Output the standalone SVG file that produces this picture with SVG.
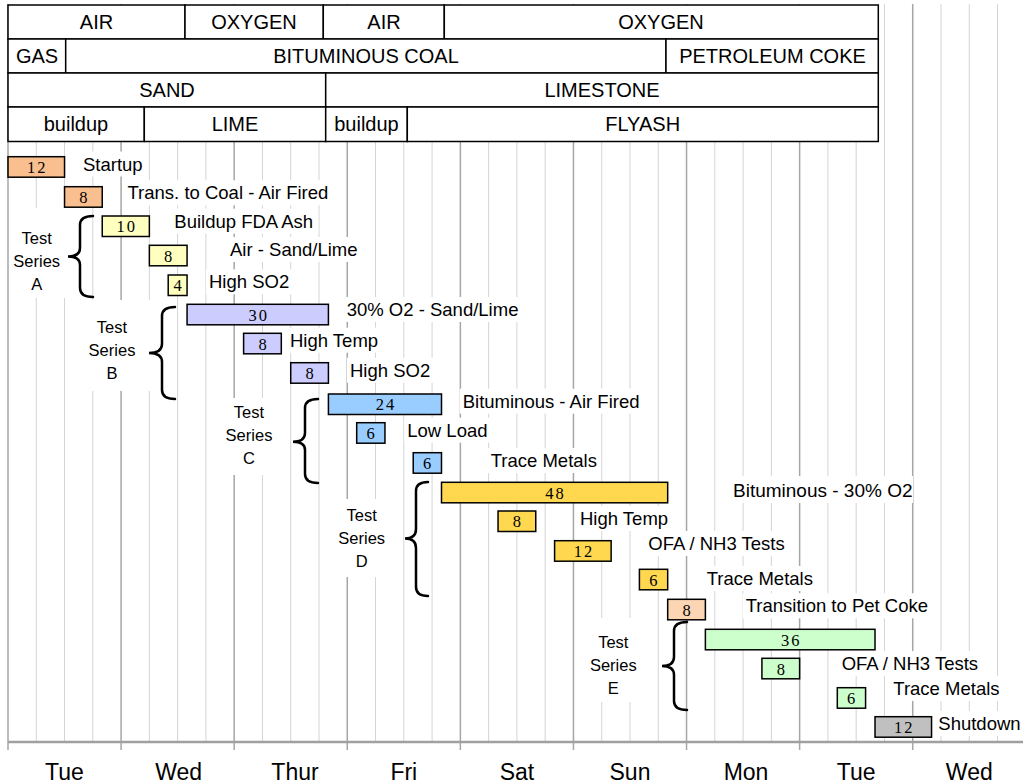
<svg xmlns="http://www.w3.org/2000/svg" width="1023" height="784" viewBox="0 0 1023 784">
<style>
.minor{stroke:#d4d4d4;stroke-width:1}
.major{stroke:#a6a6a6;stroke-width:1.5}
.cell{fill:#fff;stroke:#000;stroke-width:1.5}
.tt{font-family:"Liberation Sans",Arial,sans-serif;font-size:20px;fill:#000;text-anchor:middle}
.bar{stroke:#000;stroke-width:1.5}
.num{font-family:"Liberation Serif","Times New Roman",serif;font-size:16.5px;fill:#000;text-anchor:middle;letter-spacing:2px}
.lbl{font-family:"Liberation Sans",Arial,sans-serif;font-size:18.5px;fill:#000}
.bg{fill:#fff;stroke:none}
.ser{font-family:"Liberation Sans",Arial,sans-serif;font-size:16.5px;fill:#000;text-anchor:middle}
.brace{fill:none;stroke:#000;stroke-width:2.5;stroke-linecap:round}
.day{font-family:"Liberation Sans",Arial,sans-serif;font-size:23px;fill:#000;text-anchor:middle}
.c1{fill:#f9bf8f}.c2{fill:#ffffc0}.c3{fill:#ccccff}.c4{fill:#99ccff}.c5{fill:#ffd850}.c6{fill:#fcd5b4}.c7{fill:#ccffcc}.c8{fill:#c0c0c0}
</style>
<rect x="0" y="0" width="1023" height="784" fill="#fff"/>
<g id="grid">
<line class="minor" x1="36.27" y1="4" x2="36.27" y2="742"/>
<line class="minor" x1="64.54" y1="4" x2="64.54" y2="742"/>
<line class="minor" x1="92.81" y1="4" x2="92.81" y2="742"/>
<line class="major" x1="121.09" y1="4" x2="121.09" y2="750"/>
<line class="minor" x1="149.36" y1="4" x2="149.36" y2="742"/>
<line class="minor" x1="177.63" y1="4" x2="177.63" y2="742"/>
<line class="minor" x1="205.9" y1="4" x2="205.9" y2="742"/>
<line class="major" x1="234.18" y1="4" x2="234.18" y2="750"/>
<line class="minor" x1="262.45" y1="4" x2="262.45" y2="742"/>
<line class="minor" x1="290.72" y1="4" x2="290.72" y2="742"/>
<line class="minor" x1="318.99" y1="4" x2="318.99" y2="742"/>
<line class="major" x1="347.27" y1="4" x2="347.27" y2="750"/>
<line class="minor" x1="375.54" y1="4" x2="375.54" y2="742"/>
<line class="minor" x1="403.81" y1="4" x2="403.81" y2="742"/>
<line class="minor" x1="432.08" y1="4" x2="432.08" y2="742"/>
<line class="major" x1="460.36" y1="4" x2="460.36" y2="750"/>
<line class="minor" x1="488.63" y1="4" x2="488.63" y2="742"/>
<line class="minor" x1="516.9" y1="4" x2="516.9" y2="742"/>
<line class="minor" x1="545.17" y1="4" x2="545.17" y2="742"/>
<line class="major" x1="573.45" y1="4" x2="573.45" y2="750"/>
<line class="minor" x1="601.72" y1="4" x2="601.72" y2="742"/>
<line class="minor" x1="629.99" y1="4" x2="629.99" y2="742"/>
<line class="minor" x1="658.26" y1="4" x2="658.26" y2="742"/>
<line class="major" x1="686.54" y1="4" x2="686.54" y2="750"/>
<line class="minor" x1="714.81" y1="4" x2="714.81" y2="742"/>
<line class="minor" x1="743.08" y1="4" x2="743.08" y2="742"/>
<line class="minor" x1="771.35" y1="4" x2="771.35" y2="742"/>
<line class="major" x1="799.63" y1="4" x2="799.63" y2="750"/>
<line class="minor" x1="827.9" y1="4" x2="827.9" y2="742"/>
<line class="minor" x1="856.17" y1="4" x2="856.17" y2="742"/>
<line class="minor" x1="884.44" y1="4" x2="884.44" y2="742"/>
<line class="major" x1="912.72" y1="4" x2="912.72" y2="750"/>
<line class="minor" x1="940.99" y1="4" x2="940.99" y2="742"/>
<line class="minor" x1="969.26" y1="4" x2="969.26" y2="742"/>
<line class="minor" x1="997.53" y1="4" x2="997.53" y2="742"/>
<line class="major" x1="8" y1="4" x2="8" y2="750"/>
<line x1="8" y1="742" x2="1023" y2="742" stroke="#a0a0a0" stroke-width="2.5"/>
</g>
<g id="axis-labels">
<text class="day" x="64.5" y="780">Tue</text>
<text class="day" x="178.6" y="780">Wed</text>
<text class="day" x="295" y="780">Thur</text>
<text class="day" x="403.8" y="780">Fri</text>
<text class="day" x="517" y="780">Sat</text>
<text class="day" x="630" y="780">Sun</text>
<text class="day" x="746" y="780">Mon</text>
<text class="day" x="856.2" y="780">Tue</text>
<text class="day" x="969.3" y="780">Wed</text>
</g>
<g id="table">
<rect class="cell" x="8" y="5" width="177" height="34"/>
<rect class="cell" x="185" y="5" width="138.3" height="34"/>
<rect class="cell" x="323.3" y="5" width="121" height="34"/>
<rect class="cell" x="444.3" y="5" width="434" height="34"/>
<rect class="cell" x="8" y="39" width="57.7" height="34"/>
<rect class="cell" x="65.7" y="39" width="600.3" height="34"/>
<rect class="cell" x="666" y="39" width="212.3" height="34"/>
<rect class="cell" x="8" y="73" width="317.7" height="34"/>
<rect class="cell" x="325.7" y="73" width="552.6" height="34"/>
<rect class="cell" x="8" y="107" width="136.3" height="34.5"/>
<rect class="cell" x="144.3" y="107" width="181.4" height="34.5"/>
<rect class="cell" x="325.7" y="107" width="81.6" height="34.5"/>
<rect class="cell" x="407.3" y="107" width="471" height="34.5"/>
<text class="tt" x="96.5" y="29">AIR</text>
<text class="tt" x="254" y="29">OXYGEN</text>
<text class="tt" x="384" y="29">AIR</text>
<text class="tt" x="661" y="29">OXYGEN</text>
<text class="tt" x="37" y="63">GAS</text>
<text class="tt" x="366" y="63">BITUMINOUS COAL</text>
<text class="tt" x="772.5" y="63">PETROLEUM COKE</text>
<text class="tt" x="167" y="97">SAND</text>
<text class="tt" x="602" y="97">LIMESTONE</text>
<text class="tt" x="76" y="131">buildup</text>
<text class="tt" x="235" y="131">LIME</text>
<text class="tt" x="366.5" y="131">buildup</text>
<text class="tt" x="642.7" y="131">FLYASH</text>
</g>
<g id="series-a">
<rect class="bg" x="10" y="208" width="56" height="90"/>
<text class="ser" x="36.7" y="244">Test</text>
<text class="ser" x="36.7" y="267">Series</text>
<text class="ser" x="36.7" y="290">A</text>
</g>
<g id="series-b">
<rect class="bg" x="70" y="300" width="82" height="91"/>
<text class="ser" x="112" y="333">Test</text>
<text class="ser" x="112" y="356">Series</text>
<text class="ser" x="112" y="379">B</text>
</g>
<g id="series-c">
<rect class="bg" x="212" y="398" width="78" height="77"/>
<text class="ser" x="249" y="418">Test</text>
<text class="ser" x="249" y="441">Series</text>
<text class="ser" x="249" y="464">C</text>
</g>
<g id="series-d">
<rect class="bg" x="322" y="499" width="78" height="78"/>
<text class="ser" x="361.7" y="520.7">Test</text>
<text class="ser" x="361.7" y="543.7">Series</text>
<text class="ser" x="361.7" y="566.7">D</text>
</g>
<g id="series-e">
<rect class="bg" x="578" y="618" width="77" height="84"/>
<text class="ser" x="613.3" y="647.7">Test</text>
<text class="ser" x="613.3" y="670.7">Series</text>
<text class="ser" x="613.3" y="693.7">E</text>
</g>
<g id="connectors">
<path class="brace" d="M93 216 Q80 216 80 225 L80 248 Q80 256.5 68 256.5 Q80 256.5 80 265 L80 288 Q80 297 93 297"/>
<path class="brace" d="M175 307 Q162 307 162 316 L162 344 Q162 353 149 353 Q162 353 162 362 L162 390 Q162 399 175 399"/>
<path class="brace" d="M318 399 Q305 399 305 408 L305 433 Q305 441.7 293 441.7 Q305 441.7 305 450 L305 474 Q305 483 318 483"/>
<path class="brace" d="M428 482 Q416 482 416 491 L416 529 Q416 538.5 405 538.5 Q416 538.5 416 548 L416 587 Q416 596 428 596"/>
<path class="brace" d="M687 622 Q674 622 674 631 L674 657 Q674 666 662 666 Q674 666 674 675 L674 701 Q674 710 687 710"/>
</g>
<g id="t01"><rect class="bar c1" x="8" y="156.7" width="56.54" height="20.5"/><text class="num" x="37.3" y="173">12</text><rect class="bg" x="80" y="151.5" width="66" height="25"/><text class="lbl" x="83" y="170.5">Startup</text></g>
<g id="t02"><rect class="bar c1" x="64.54" y="186.7" width="37.7" height="20.5"/><text class="num" x="84.4" y="203">8</text><rect class="bg" x="124.5" y="180.3" width="208" height="25"/><text class="lbl" x="127.5" y="199.3">Trans. to Coal - Air Fired</text></g>
<g id="t03"><rect class="bar c2" x="102.24" y="216" width="47.12" height="20.5"/><text class="num" x="126.8" y="232.3">10</text><rect class="bg" x="171.3" y="208.7" width="147" height="25"/><text class="lbl" x="174.3" y="227.7">Buildup FDA Ash</text></g>
<g id="t04"><rect class="bar c2" x="149.36" y="245.3" width="37.7" height="20.5"/><text class="num" x="169.2" y="261.6">8</text><rect class="bg" x="227" y="237" width="133" height="25"/><text class="lbl" x="230" y="256">Air - Sand/Lime</text></g>
<g id="t05"><rect class="bar c2" x="168.21" y="275" width="18.85" height="20.5"/><text class="num" x="178.6" y="291.3">4</text><rect class="bg" x="206" y="269.3" width="86" height="25"/><text class="lbl" x="209" y="288.3">High SO2</text></g>
<g id="t06"><rect class="bar c3" x="187.06" y="304.3" width="141.36" height="20.5"/><text class="num" x="258.7" y="320.6">30</text><rect class="bg" x="343.7" y="297" width="178" height="25"/><text class="lbl" x="346.7" y="316">30% O2 - Sand/Lime</text></g>
<g id="t07"><rect class="bar c3" x="243.6" y="333.3" width="37.7" height="20.5"/><text class="num" x="263.5" y="349.6">8</text><rect class="bg" x="287" y="327.7" width="96" height="25"/><text class="lbl" x="290" y="346.7">High Temp</text></g>
<g id="t08"><rect class="bar c3" x="290.72" y="362.7" width="37.7" height="20.5"/><text class="num" x="310.6" y="379">8</text><rect class="bg" x="347" y="357.7" width="86" height="25"/><text class="lbl" x="350" y="376.7">High SO2</text></g>
<g id="t09"><rect class="bar c4" x="328.42" y="394" width="113.09" height="20.5"/><text class="num" x="386" y="410.3">24</text><rect class="bg" x="459.7" y="388.7" width="184" height="25"/><text class="lbl" x="462.7" y="407.7">Bituminous - Air Fired</text></g>
<g id="t10"><rect class="bar c4" x="356.69" y="422.7" width="28.27" height="20.5"/><text class="num" x="371.6" y="439">6</text><rect class="bg" x="404.3" y="417.7" width="86" height="25"/><text class="lbl" x="407.3" y="436.7">Low Load</text></g>
<g id="t11"><rect class="bar c4" x="413.23" y="452.7" width="28.27" height="20.5"/><text class="num" x="428.1" y="469">6</text><rect class="bg" x="487.7" y="448" width="113" height="25"/><text class="lbl" x="490.7" y="467">Trace Metals</text></g>
<g id="t12"><rect class="bar c5" x="441.5" y="482.3" width="226.18" height="20.5"/><text class="num" x="555.6" y="498.6">48</text><rect class="bg" x="730" y="476" width="183" height="27"/><text class="lbl" x="733" y="497" style="font-size:19px">Bituminous - 30% O2</text></g>
<g id="t13"><rect class="bar c5" x="498.05" y="511" width="37.7" height="20.5"/><text class="num" x="517.9" y="527.3">8</text><rect class="bg" x="577" y="506" width="96" height="25"/><text class="lbl" x="580" y="525">High Temp</text></g>
<g id="t14"><rect class="bar c5" x="554.59" y="540.7" width="56.54" height="20.5"/><text class="num" x="583.9" y="557">12</text><rect class="bg" x="645.3" y="531" width="144" height="25"/><text class="lbl" x="648.3" y="550">OFA / NH3 Tests</text></g>
<g id="t15"><rect class="bar c5" x="639.41" y="569.3" width="28.27" height="20.5"/><text class="num" x="654.3" y="585.6">6</text><rect class="bg" x="703.7" y="566" width="113" height="25"/><text class="lbl" x="706.7" y="585">Trace Metals</text></g>
<g id="t16"><rect class="bar c6" x="667.68" y="599.3" width="37.7" height="20.5"/><text class="num" x="687.6" y="615.6">8</text><rect class="bg" x="742.7" y="593.3" width="189" height="25"/><text class="lbl" x="745.7" y="612.3">Transition to Pet Coke</text></g>
<g id="t17"><rect class="bar c7" x="705.38" y="629.3" width="169.63" height="20.5"/><text class="num" x="791.2" y="645.6">36</text></g>
<g id="t18"><rect class="bar c7" x="761.92" y="658.3" width="37.7" height="20.5"/><text class="num" x="781.8" y="674.6">8</text><rect class="bg" x="838.7" y="651" width="147" height="25"/><text class="lbl" x="841.7" y="670">OFA / NH3 Tests</text></g>
<g id="t19"><rect class="bar c7" x="837.31" y="687.7" width="28.27" height="20.5"/><text class="num" x="852.2" y="704">6</text><rect class="bg" x="890.3" y="676" width="113" height="25"/><text class="lbl" x="893.3" y="695">Trace Metals</text></g>
<g id="t20"><rect class="bar c8" x="875.01" y="716.7" width="56.54" height="20.5"/><text class="num" x="904.3" y="733">12</text><rect class="bg" x="935.3" y="711" width="88" height="25"/><text class="lbl" x="938.3" y="730">Shutdown</text></g>
</svg>
